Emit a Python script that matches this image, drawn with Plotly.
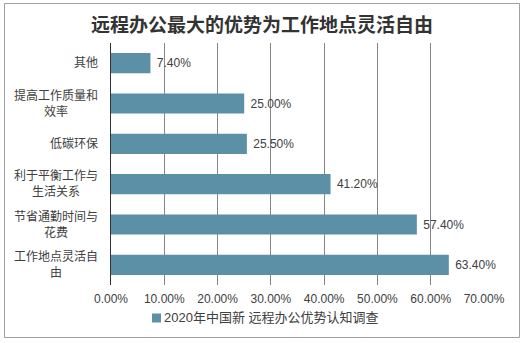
import plotly.graph_objects as go

categories = ["其他", "提高工作质量和<br>效率", "低碳环保", "利于平衡工作与<br>生活关系", "节省通勤时间与<br>花费", "工作地点灵活自<br>由"]
values = [0.074, 0.25, 0.255, 0.412, 0.574, 0.634]
series_name = "2020年中国新 远程办公优势认知调查"
title_text = "远程办公最大的优势为工作地点灵活自由"

W, H = 524, 343
L, R, T, B = 111, 40, 43, 58
pw = W - L - R
ph = H - T - B

FONT = "Liberation Sans, Arial, Noto Sans CJK SC, sans-serif"
TXT = "#404040"
BAR = "#5B90A6"

def px2x(px):
    return (px - L) / pw

def py2y(py):
    return (T + ph - py) / ph

fig = go.Figure()
fig.add_trace(go.Bar(
    y=categories, x=values, orientation="h",
    marker=dict(color=BAR, line=dict(width=0)),
    name=series_name,
    text=[f"\u00a0{v*100:.2f}%" for v in values],
    textposition="outside",
    textfont=dict(size=12, color=TXT, family=FONT),
    cliponaxis=False,
    showlegend=False,
))

for c in categories:
    fig.add_annotation(
        x=0, xref="paper", xshift=-11, y=c, yref="y",
        text=c, showarrow=False, xanchor="right", yanchor="middle",
        align="center", font=dict(size=12, color=TXT, family=FONT),
    )

# legend (manual)
fig.add_shape(type="rect", xref="paper", yref="paper",
              x0=px2x(152), x1=px2x(161), y0=py2y(322.5), y1=py2y(313.5),
              line=dict(width=0), fillcolor=BAR)
fig.add_annotation(x=px2x(162), xref="paper", y=py2y(318), yref="paper",
                   text=series_name, showarrow=False, xanchor="left", yanchor="middle",
                   font=dict(size=13, color=TXT, family=FONT))

fig.add_shape(type="rect", xref="paper", yref="paper",
              x0=px2x(4.5), x1=px2x(519.5), y0=py2y(337.5), y1=py2y(3.5),
              line=dict(color="#A0A0A0", width=1), fillcolor="rgba(0,0,0,0)", layer="below")

fig.update_layout(
    width=W, height=H,
    margin=dict(l=L, r=R, t=T, b=B, autoexpand=False),
    paper_bgcolor="white", plot_bgcolor="white",
    font=dict(family=FONT, color=TXT, size=12),
    title=dict(text=f"<b>{title_text}</b>", x=0.5, xref="container", xanchor="center",
               y=1 - 25 / H, yref="container", yanchor="middle",
               font=dict(size=19, color="#333333", family="Noto Sans CJK SC, sans-serif")),
    bargap=0.5,
    xaxis=dict(range=[0, 0.7], dtick=0.1, tick0=0, tickformat=".2%",
               showgrid=True, gridcolor="#868686", gridwidth=1,
               zeroline=False, showline=False, ticks="", ticklabelstandoff=5,
               tickfont=dict(size=12, color=TXT, family=FONT), fixedrange=True),
    yaxis=dict(autorange="reversed", showticklabels=False, showgrid=False,
               showline=True, linecolor="#333333", linewidth=1, ticks="",
               zeroline=False, fixedrange=True),
    showlegend=False,
)

fig.write_html("out.html")
